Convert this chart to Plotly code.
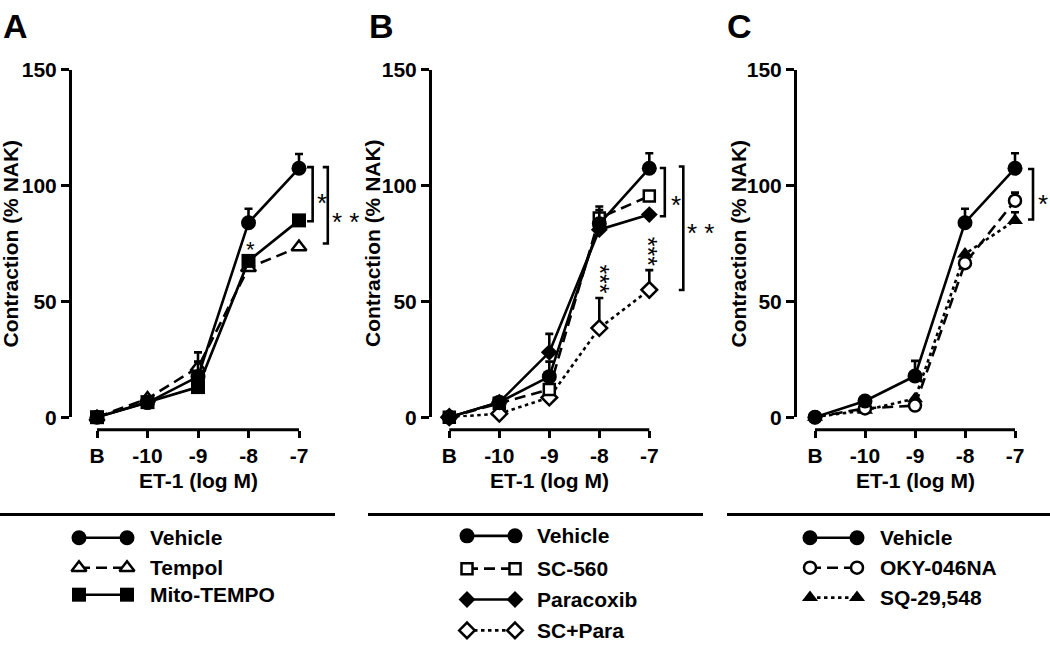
import plotly.graph_objects as go

W, H = 1050, 652
FONT = "Liberation Sans, Arial, sans-serif"
STARFONT = "Liberation Sans, Arial, sans-serif"

# ---------------- data ----------------
doses = ["B", "-10", "-9", "-8", "-7"]
y_ticks = [0, 50, 100, 150]
x_title = "ET-1 (log M)"
y_title = "Contraction (% NAK)"

vehicle_A = [0, 6.3, 17.5, 84, 107.5]
vehicle_A_err = [0, 1, 6.5, 6, 6.2]
tempol = [0, 8, 21.5, 64.5, 73.5]
tempol_err = [0, 0, 6.5, 0, 0]
mito_tempo = [0, 6.5, 13, 67.5, 85]
mito_tempo_err = [0, 0, 0, 0, 0]

vehicle_B = [0, 6.5, 17.5, 83.5, 107.5]
vehicle_B_err = [0, 1, 6.5, 6, 6.5]
sc560 = [0, 6, 12, 86, 95.5]
sc560_err = [0, 0, 0, 5, 0]
paracoxib = [0, 6.5, 28, 81, 87.5]
paracoxib_err = [0, 0, 8, 0, 0]
sc_para = [0, 1.5, 8.5, 38.5, 55]
sc_para_err = [0, 0, 0, 13, 8.5]

vehicle_C = [0, 7, 17.8, 84, 107.5]
vehicle_C_err = [0, 1, 6.5, 6, 6.5]
oky046na = [0, 3.8, 5, 66.5, 93.5]
oky046na_err = [0, 0, 0, 0, 3.5]
sq29548 = [0, 3, 8, 70.5, 85]
sq29548_err = [0, 0, 0, 0, 3.5]

# ---------------- styles ----------------
STY = {
    "Vehicle":    dict(symbol="circle", size=15, dash="solid", open=False),
    "Tempol":     dict(symbol="triangle-up", size=13, dash="dash", open=True),
    "Mito-TEMPO": dict(symbol="square", size=14, dash="solid", open=False),
    "SC-560":     dict(symbol="square", size=11, dash="dash", open=True),
    "Paracoxib":  dict(symbol="diamond", size=13, dash="solid", open=False),
    "SC+Para":    dict(symbol="diamond", size=12, dash="dot", open=True),
    "OKY-046NA":  dict(symbol="circle", size=12, dash="dash", open=True),
    "SQ-29,548":  dict(symbol="triangle-up", size=14, dash="dot", open=False),
}
DASH = {"solid": "solid", "dash": "11px,6px", "dot": "3.5px,3.5px"}

panels = [
    dict(letter="A", yax=72, x0=97, step=50.5, right=360, ytitle_x=11, letter_x=15,
         series=[("Tempol", tempol, tempol_err), ("Mito-TEMPO", mito_tempo, mito_tempo_err),
                 ("Vehicle", vehicle_A, vehicle_A_err)],
         legend=["Vehicle", "Tempol", "Mito-TEMPO"],
         leg_x=(79, 127, 148), leg_rows=[545, 576, 604], sep=(0, 335)),
    dict(letter="B", yax=432, x0=449.3, step=50, right=720, ytitle_x=372.5, letter_x=381,
         series=[("SC+Para", sc_para, sc_para_err), ("SC-560", sc560, sc560_err),
                 ("Paracoxib", paracoxib, paracoxib_err), ("Vehicle", vehicle_B, vehicle_B_err)],
         legend=["Vehicle", "SC-560", "Paracoxib", "SC+Para"],
         leg_x=(467, 515, 535), leg_rows=[543, 577, 609, 641], sep=(368, 703)),
    dict(letter="C", yax=797, x0=815, step=50, right=1050, ytitle_x=739, letter_x=739,
         series=[("SQ-29,548", sq29548, sq29548_err), ("OKY-046NA", oky046na, oky046na_err),
                 ("Vehicle", vehicle_C, vehicle_C_err)],
         legend=["Vehicle", "OKY-046NA", "SQ-29,548"],
         leg_x=(810, 857, 878), leg_rows=[545, 576, 607], sep=(727, 1050)),
]

# significance brackets: (x_arm, x_vert, y_top, y_bot, label, label_x, label_y)
brackets = [
    [(4.16, 4.27, 108, 84.6, "*", 4.46, 95.5), (4.47, 4.57, 108, 75, "* *", 4.93, 87.5)],
    [(4.21, 4.31, 107.6, 86.8, "*", 4.54, 94.6), (4.59, 4.68, 108.3, 54.9, "* *", 5.03, 82.6)],
    [(4.26, 4.36, 107.2, 85.4, "*", 4.56, 95.1)],
]
# star labels over single points: (x, y, text)
stars = [
    [(3.04, 75, "*")],
    [(3.03, 59.6, "***"), (4.0, 71.7, "***")],
    [],
]

def px_x(p):
    return p / W

def px_y(p):
    return 1 - p / H

fig = go.Figure()
xpos = list(range(len(doses)))
annotations = []
shapes = []
layout = {}

for i, pnl in enumerate(panels):
    n = "" if i == 0 else str(i + 1)
    xa, ya = "x" + n, "y" + n
    for name, vals, errs in pnl["series"]:
        s = STY[name]
        fig.add_trace(go.Scatter(
            x=xpos, y=vals, mode="lines+markers", name=name, showlegend=False,
            xaxis=xa, yaxis=ya, cliponaxis=False,
            line=dict(color="black", width=2.6, dash=DASH[s["dash"]]),
            marker=dict(symbol=s["symbol"], size=s["size"],
                        color="white" if s["open"] else "black",
                        line=dict(color="black", width=2.5 if s["open"] else 0)),
            error_y=dict(type="data", array=errs, arrayminus=[0] * len(errs), symmetric=False,
                         color="black", thickness=2.6, width=4),
        ))
    lo = -(pnl["x0"] - pnl["yax"]) / pnl["step"]
    hi = (pnl["right"] - pnl["x0"]) / pnl["step"]
    layout["xaxis" + n] = dict(
        domain=[px_x(pnl["yax"]), px_x(pnl["right"])], range=[lo, hi], anchor="free",
        position=px_y(433), showline=False, showgrid=False, zeroline=False,
        ticks="outside", ticklen=7, tickwidth=3, tickcolor="black",
        tickvals=xpos, ticktext=doses,
        tickfont=dict(family=FONT, size=21, color="black", weight="bold"),
    )
    layout["yaxis" + n] = dict(
        domain=[px_y(420), px_y(60)], range=[0, 150], anchor=xa,
        showline=True, linewidth=3, linecolor="black", showgrid=False, zeroline=False,
        ticks="outside", ticklen=8, tickwidth=3, tickcolor="black", tickvals=y_ticks,
        tickfont=dict(family=FONT, size=21, color="black", weight="bold"),
    )
    # x-axis baseline spanning first to last dose
    shapes.append(dict(type="line", xref=xa, yref="paper", x0=xpos[0], x1=xpos[-1],
                       y0=px_y(433), y1=px_y(433), line=dict(color="black", width=3)))
    annotations.append(dict(text=x_title, xref=xa, yref="paper", x=(xpos[0] + xpos[-1]) / 2,
                            y=px_y(486), showarrow=False, xanchor="center", yanchor="middle",
                            font=dict(family=FONT, size=21, color="black", weight="bold")))
    annotations.append(dict(text=y_title, xref="paper", yref="paper", x=px_x(pnl["ytitle_x"]),
                            y=px_y(240), showarrow=False, textangle=-90,
                            xanchor="center", yanchor="middle",
                            font=dict(family=FONT, size=21, color="black", weight="bold")))
    annotations.append(dict(text=pnl["letter"], xref="paper", yref="paper", x=px_x(pnl["letter_x"]),
                            y=px_y(15), showarrow=False, xanchor="center", yanchor="middle",
                            font=dict(family=FONT, size=34, color="black", weight="bold")))
    for (xarm, xv, yt, yb, lab, lx, ly) in brackets[i]:
        shapes.append(dict(type="path", xref=xa, yref=ya,
                           path=f"M {xarm},{yt} L {xv},{yt} L {xv},{yb} L {xarm},{yb}",
                           line=dict(color="black", width=2.6)))
        annotations.append(dict(text=lab, xref=xa, yref=ya, x=lx, y=ly, showarrow=False,
                                xanchor="center", yanchor="middle", yshift=-7,
                                font=dict(family=STARFONT, size=26, color="black")))
    for (sx, sy, st) in stars[i]:
        vertical = len(st) > 1
        annotations.append(dict(text=st, xref=xa, yref=ya, x=sx, y=sy, showarrow=False,
                                xanchor="center", yanchor="middle",
                                textangle=90 if vertical else 0,
                                xshift=-1 if vertical else 0, yshift=0 if vertical else -6,
                                font=dict(family=STARFONT, size=25 if vertical else 22, color="black")))
    shapes.append(dict(type="line", xref="paper", yref="paper", x0=px_x(pnl["sep"][0]),
                       x1=px_x(pnl["sep"][1]), y0=px_y(521), y1=px_y(521),
                       line=dict(color="black", width=3)))
    # custom legend drawn in a pixel-unit overlay axis
    lx0, lx1, ltx = pnl["leg_x"]
    for name, ry in zip(pnl["legend"], pnl["leg_rows"]):
        s = STY[name]
        fig.add_trace(go.Scatter(
            x=[lx0, lx1], y=[ry, ry], mode="lines+markers", showlegend=False,
            xaxis="x4", yaxis="y4", cliponaxis=False, hoverinfo="skip",
            line=dict(color="black", width=2.6, dash=DASH[s["dash"]]),
            marker=dict(symbol=s["symbol"], size=s["size"],
                        color="white" if s["open"] else "black",
                        line=dict(color="black", width=2.5 if s["open"] else 0)),
        ))
        annotations.append(dict(text=name, xref="x4", yref="y4", x=ltx, y=ry, showarrow=False,
                                xanchor="left", yanchor="middle",
                                font=dict(family=FONT, size=21, color="black", weight="bold")))

layout["xaxis4"] = dict(domain=[0, 1], range=[0, W], visible=False, anchor="y4", fixedrange=True)
layout["yaxis4"] = dict(domain=[0, 1], range=[H, 0], visible=False, anchor="x4", fixedrange=True)

fig.update_layout(
    width=W, height=H, margin=dict(l=0, r=0, t=0, b=0),
    paper_bgcolor="white", plot_bgcolor="rgba(0,0,0,0)",
    showlegend=False, annotations=annotations, shapes=shapes, **layout,
)
fig.write_html("out.html", config={"displayModeBar": False},
               post_script="document.body.style.margin='0';document.body.style.overflow='hidden';")
